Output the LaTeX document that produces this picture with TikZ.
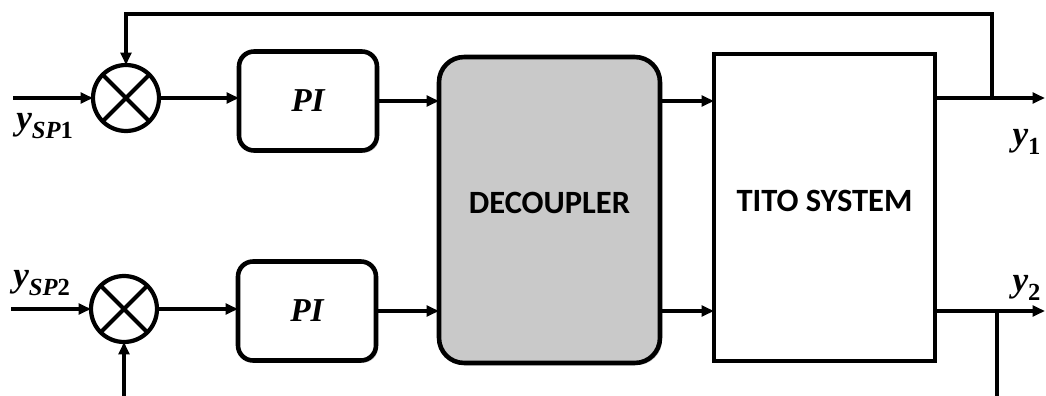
\documentclass[tikz,border=0pt]{standalone}
\usepackage{amsmath}
\usepackage{fontspec}
\setsansfont{Carlito}
\newfontfamily\varfont{Liberation Serif}
\newcommand{\vit}[1]{\text{\varfont\bfseries\itshape #1}}
\newcommand{\vup}[1]{\text{\varfont\bfseries #1}}
\usetikzlibrary{arrows.meta,calc,shadows}
\definecolor{LoopInk}{gray}{0.0}
\definecolor{LoopFill}{gray}{0.79}
\tikzset{
    loop/diagram/.style={
        draw=LoopInk,
        line width=2.3pt,
        >={Triangle[length=7pt, width=6pt]},
        every node/.style={inner sep=2pt, outer sep=0pt}
    },
    loop/wire/.style={draw=LoopInk, line width=2.3pt},
    loop/signal/.style={draw=LoopInk, line width=2.3pt, ->},
    loop/sum/.style={
        circle, draw=LoopInk, fill=white, line width=2.4pt,
        minimum size=1.32cm, inner sep=0pt
    },
    loop/shadow/.style={
        drop shadow={shadow xshift=1.2pt, shadow yshift=-1.2pt,
        opacity=0.22, fill=black}
    },
    loop/pi/.style={
        draw=LoopInk, fill=white, line width=2.6pt, rounded corners=0.3cm,
        minimum width=2.76cm, minimum height=1.98cm,
        font=\fontsize{19}{21}\selectfont, loop/shadow
    },
    loop/decoupler/.style={
        draw=LoopInk, fill=LoopFill, line width=2.6pt, rounded corners=0.5cm,
        minimum width=4.42cm, minimum height=6.12cm, loop/shadow
    },
    loop/plant/.style={
        draw=LoopInk, fill=white, line width=2.8pt,
        minimum width=4.42cm, minimum height=6.14cm, loop/shadow
    },
    loop/title/.style={
        font=\sffamily\bfseries\fontsize{18.5}{21}\selectfont, yshift=4pt
    },
    loop/var/.style={font=\fontsize{20}{22}\selectfont, inner sep=0pt}
}

\begin{document}
\begin{tikzpicture}[loop/diagram, x=0.02cm, y=-0.02cm]
    \useasboundingbox (0,0) rectangle (1046,396);
    % blocks
    \node[loop/sum] (sum1) at (126,98) {};
    \node[loop/sum] (sum2) at (124,309) {};
    \foreach \s in {sum1,sum2} {
        \draw[loop/wire] (\s.45) -- (\s.225) (\s.135) -- (\s.315);
    }
    \node[loop/pi] (pi1) at (308,101) {$\vit{PI}$};
    \node[loop/pi] (pi2) at (307,311) {$\vit{PI}$};
    \node[loop/decoupler, label={[loop/title]center:DECOUPLER}] (dec) at (549.5,210) {};
    \node[loop/plant, label={[loop/title]center:TITO SYSTEM}] (tito) at (824.5,207.5) {};
    % inputs
    \coordinate (in1) at (13,98);
    \coordinate (in2) at (11,309);
    \node[loop/var] (ysp1) at (45,126) {$\vit{y}_{\vit{SP}\vup{1}}$};
    \node[loop/var] (ysp2) at (42,283) {$\vit{y}_{\vit{SP}\vup{2}}$};
    \draw[loop/signal] (in1) -- (sum1);
    \draw[loop/signal] (in2) -- (sum2);
    % forward path
    \draw[loop/signal] (sum1) -- (sum1 -| pi1.west);
    \draw[loop/signal] (sum2) -- (sum2 -| pi2.west);
    \draw[loop/signal] (pi1) -- (pi1 -| dec.west);
    \draw[loop/signal] (pi2) -- (pi2 -| dec.west);
    \draw[loop/signal] (pi1 -| dec.east) -- (pi1 -| tito.west);
    \draw[loop/signal] (pi2 -| dec.east) -- (pi2 -| tito.west);
    % outputs
    \coordinate (out1) at (1045,98);
    \coordinate (out2) at (1045,311);
    \node[loop/var] (y1) at (1027,142) {$\vit{y}_{\vup{1}}$};
    \node[loop/var] (y2) at (1027,288) {$\vit{y}_{\vup{2}}$};
    \draw[loop/signal] (tito.east |- out1) -- (out1);
    \draw[loop/signal] (tito.east |- out2) -- (out2);
    % feedback
    \coordinate (fb1) at (992,98);
    \coordinate (fb2) at (997,311);
    \coordinate (ret2) at (124,400);
    \draw[loop/signal] (fb1) -- ++(0,-84) -| (sum1);
    \draw[loop/wire] (fb2) -- ++(0,90);
    \draw[loop/signal] (ret2) -- (sum2);
\end{tikzpicture}
\end{document}
